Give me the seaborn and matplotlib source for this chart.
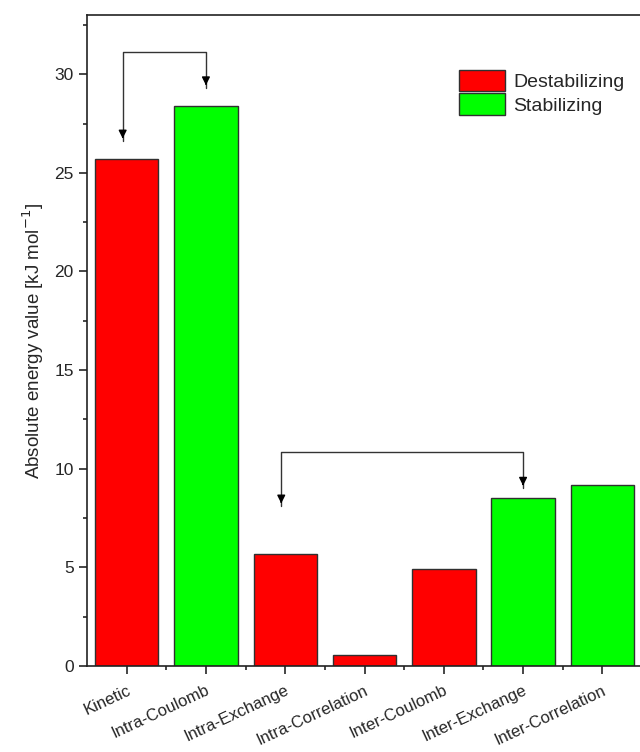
import matplotlib
matplotlib.use("Agg")
import matplotlib.pyplot as plt
import matplotlib.ticker as ticker
import numpy as np
import pandas as pd
import seaborn as sns

# data
categories = ["Kinetic", "Intra-Coulomb", "Intra-Exchange", "Intra-Correlation",
              "Inter-Coulomb", "Inter-Exchange", "Inter-Correlation"]
values = [25.7, 28.4, 5.7, 0.55, 4.9, 8.5, 9.2]
kinds = ["Destabilizing", "Stabilizing", "Destabilizing", "Destabilizing",
         "Destabilizing", "Stabilizing", "Stabilizing"]
palette = {"Destabilizing": "#ff0000", "Stabilizing": "#00ff00"}

# brackets: (from index, to index, bracket height, from-tip, to-tip)
brackets = [(0, 1, 31.1, 26.6, 29.3),
            (2, 5, 10.85, 8.1, 9.0)]

sns.set_style("ticks")
plt.rcParams["font.family"] = ["Liberation Sans", "DejaVu Sans"]

df = pd.DataFrame({"cat": categories, "val": values, "kind": kinds})

fig = plt.figure(figsize=(6.4, 7.52), dpi=100)
ax = fig.add_axes([87 / 640, 86 / 752, 555 / 640, 651 / 752])

sns.barplot(data=df, x="cat", y="val", hue="kind", palette=palette, dodge=False,
            width=0.8, edgecolor="#303030", linewidth=1.0, saturation=1, ax=ax)

for x0, x1, yb, t0, t1 in brackets:
    ax.plot([x0 - 0.05, x0 - 0.05, x1, x1], [t0, yb, yb, t1], color="#333333", lw=1.0)
    ax.annotate("", xy=(x0 - 0.05, t0), xytext=(x0 - 0.05, t0 + 0.4),
                arrowprops=dict(arrowstyle="-|>", color="black", lw=1.0, mutation_scale=12))
    ax.annotate("", xy=(x1, t1), xytext=(x1, t1 + 0.4),
                arrowprops=dict(arrowstyle="-|>", color="black", lw=1.0, mutation_scale=12))

ax.set_xlim(-0.5, 6.5)
ax.set_ylim(0, 33)
ax.yaxis.set_major_locator(ticker.MultipleLocator(5))
ax.yaxis.set_minor_locator(ticker.MultipleLocator(2.5))
ax.xaxis.set_minor_locator(ticker.FixedLocator(np.arange(0.5, 6.5, 1)))
ax.tick_params(axis="both", which="major", direction="out", length=6, width=1.2, labelsize=12.5)
ax.tick_params(axis="both", which="minor", direction="out", length=3, width=1.2)
ax.tick_params(axis="x", labelsize=12, pad=6)
for s in ax.spines.values():
    s.set_linewidth(1.2)
    s.set_color("#222222")

ax.set_xticks(range(len(categories)))
ax.set_xticklabels(categories, rotation=25, ha="right", rotation_mode="anchor")
ax.set_xlabel("")
ax.set_ylabel("Absolute energy value [kJ mol$^{-1}$]", fontsize=13.5, labelpad=6)

ax.legend(loc="upper right", bbox_to_anchor=(1.0, 0.942), frameon=False, fontsize=14,
          handlelength=2.4, handleheight=1.3, handletextpad=0.4, labelspacing=0.1)

fig.savefig("out.png", dpi=100)
